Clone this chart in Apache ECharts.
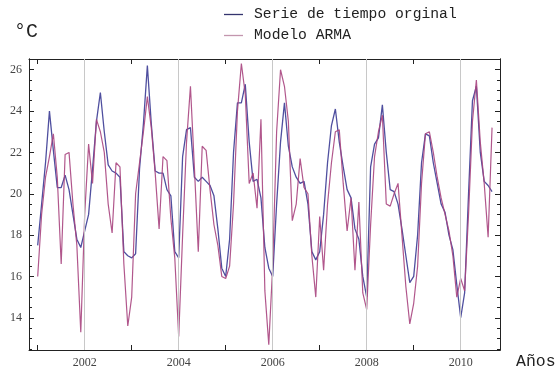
<!DOCTYPE html>
<html>
<head>
<meta charset="utf-8">
<script src="https://cdn.jsdelivr.net/npm/echarts@6/dist/echarts.min.js"></script>
<style>
  html, body { margin: 0; padding: 0; background: #fff; }
  #chart { width: 559px; height: 376px; }
</style>
</head>
<body>
<div id="chart"></div>
<script>
// Monthly mean temperature (°C), January 2001 onwards
const startYear = 2001;

const serieOriginal = [
  // 2001
  17.5, 19.5, 21.5, 24.0, 22.1, 20.3, 20.3, 20.9, 20.2, 19.0, 17.8, 17.4,
  // 2002
  18.2, 19.0, 21.2, 23.5, 24.9, 23.0, 21.4, 21.1, 21.0, 20.8, 17.2, 17.0,
  // 2003
  16.9, 17.1, 21.2, 23.4, 26.2, 23.4, 21.1, 21.0, 21.0, 20.2, 19.9, 17.2,
  // 2004
  16.9, 21.8, 23.1, 23.2, 20.8, 20.6, 20.8, 20.6, 20.4, 19.9, 18.3, 16.4,
  // 2005
  16.0, 17.8, 22.0, 24.4, 24.4, 25.3, 22.5, 20.6, 20.7, 19.8, 17.4, 16.4,
  // 2006
  16.0, 19.5, 22.5, 24.4, 22.3, 21.3, 20.8, 20.5, 20.6, 19.5, 17.2, 16.8,
  // 2007
  17.2, 19.0, 21.5, 23.3, 24.1, 22.5, 21.3, 20.2, 19.8, 18.3, 17.8, 16.0,
  // 2008
  15.0, 21.3, 22.4, 22.7, 24.3, 22.0, 20.2, 20.1, 19.5, 18.3, 17.0, 15.7,
  // 2009
  16.0, 18.0, 21.5, 22.9, 22.8, 21.5, 20.5, 19.5, 19.1, 18.0, 17.3, 15.6,
  // 2010
  14.0, 15.2, 20.0, 24.5, 25.2, 22.0, 20.6, 20.4, 20.1
];

const modeloARMA = [
  // 2001
  16.0, 19.0, 20.8, 21.8, 22.9, 20.8, 16.6, 21.9, 22.0, 19.5, 17.5, 13.3,
  // 2002
  19.0, 22.4, 20.5, 23.6, 23.0, 22.0, 19.5, 18.1, 21.5, 21.3, 16.6, 13.6,
  // 2003
  15.0, 20.0, 21.5, 23.0, 24.7, 23.2, 21.0, 18.3, 21.8, 21.6, 18.8, 16.9,
  // 2004
  13.1, 18.0, 22.5, 25.2, 21.3, 17.2, 22.3, 22.1, 20.2, 18.5, 17.5, 16.0,
  // 2005
  15.9, 16.5, 19.5, 24.0, 26.3, 24.8, 20.5, 21.0, 19.3, 23.6, 15.3, 12.7,
  // 2006
  16.5, 23.0, 26.0, 25.2, 23.5, 18.7, 19.5, 21.7, 20.3, 20.0, 17.0, 15.0,
  // 2007
  18.9, 16.3, 19.5, 21.5, 23.0, 23.1, 20.5, 18.2, 19.8, 16.3, 19.6, 15.2,
  // 2008
  14.4, 18.5, 21.8, 23.0, 23.8, 19.5, 19.4, 20.0, 20.5, 18.0, 15.5, 13.7,
  // 2009
  14.7, 16.5, 20.5, 22.9, 23.0, 22.0, 20.8, 19.8, 19.0, 18.2, 17.0, 15.0,
  // 2010
  15.9, 15.3, 19.0, 23.5, 25.5, 22.5, 20.5, 17.9, 23.2
];

const xTicks = [2001, 2002, 2003, 2004, 2005, 2006, 2007, 2008, 2009, 2010];
const xLabels = [2002, 2004, 2006, 2008, 2010];
const yLabels = [14, 16, 18, 20, 22, 24, 26];
const yMinorTicks = [];
for (let v = 12.5; v <= 26.5; v += 0.5) {
  if (v % 2 !== 0) yMinorTicks.push(v);
}

const seriesNames = ['Serie de tiempo orginal', 'Modelo ARMA'];

const xMin = 2000.815, xMax = 2010.836;
const yMin = 12.44, yMax = 26.52;

const toPairs = arr => arr.map((v, i) => [startYear + i / 12, v]);

const frameColor = '#222';
const labelFont = { fontFamily: 'Liberation Serif', fontSize: 12, color: '#444' };

function xAxisDef(position, withLabels) {
  return {
    type: 'value', min: xMin, max: xMax, position: position,
    axisLine: { show: true, onZero: false, lineStyle: { color: frameColor, width: 1 } },
    axisTick: { show: true, inside: true, length: 5, customValues: xTicks,
                lineStyle: { color: frameColor, width: 1 } },
    axisLabel: withLabels
      ? Object.assign({ show: true, customValues: xLabels, margin: 7,
                        formatter: v => String(v) }, labelFont)
      : { show: false },
    splitLine: { show: false }
  };
}

function yAxisDef(position, ticks, tickLen, withLabels) {
  return {
    type: 'value', min: yMin, max: yMax, position: position,
    axisLine: { show: true, onZero: false, lineStyle: { color: frameColor, width: 1 } },
    axisTick: { show: true, inside: true, length: tickLen, customValues: ticks,
                lineStyle: { color: frameColor, width: 1 } },
    axisLabel: withLabels
      ? Object.assign({ show: true, customValues: yLabels, margin: 7,
                        formatter: v => String(v) }, labelFont)
      : { show: false },
    splitLine: { show: false }
  };
}

const chart = echarts.init(document.getElementById('chart'), null, { renderer: 'canvas' });

chart.setOption({
  animation: false,
  backgroundColor: '#fff',
  grid: { left: 29, right: 59, top: 59, bottom: 26, containLabel: false },
  legend: {
    orient: 'vertical',
    left: 219, top: 1,
    icon: 'rect',
    itemWidth: 19, itemHeight: 1.3, itemGap: 4,
    textStyle: { fontFamily: 'Liberation Mono', fontSize: 14.7, color: '#222',
                 lineHeight: 17, padding: [0, 0, 0, 6] },
    data: [
      { name: seriesNames[0], itemStyle: { color: '#34346e' } },
      { name: seriesNames[1], itemStyle: { color: '#c396ae' } }
    ]
  },
  xAxis: [xAxisDef('bottom', true), xAxisDef('top', false)],
  yAxis: [
    yAxisDef('left', yLabels, 5, true),
    yAxisDef('left', yMinorTicks, 3, false),
    yAxisDef('right', yLabels, 5, false),
    yAxisDef('right', yMinorTicks, 3, false)
  ],
  graphic: [
    { type: 'text', left: 14, top: 22,
      style: { text: '°C', font: '20px "Liberation Mono"', fill: '#222' } },
    { type: 'text', left: 516, top: 353,
      style: { text: 'Años', font: '16.5px "Liberation Mono"', fill: '#222' } }
  ],
  series: [
    {
      // vertical reference lines at even years
      type: 'line', data: [], z: 1, silent: true,
      markLine: {
        silent: true, symbol: ['none', 'none'], label: { show: false },
        lineStyle: { color: '#c8c8c8', width: 1, type: 'solid' },
        data: xLabels.map(v => ({ xAxis: v }))
      }
    },
    {
      name: seriesNames[0], type: 'line', data: toPairs(serieOriginal),
      symbol: 'none', z: 3,
      lineStyle: { color: '#4f4f9f', width: 1.3 },
      itemStyle: { color: '#4f4f9f' }
    },
    {
      name: seriesNames[1], type: 'line', data: toPairs(modeloARMA),
      symbol: 'none', z: 4,
      lineStyle: { color: '#a8457f', width: 1.2, opacity: 0.9 },
      itemStyle: { color: '#a8457f' }
    }
  ]
});
</script>
</body>
</html>
